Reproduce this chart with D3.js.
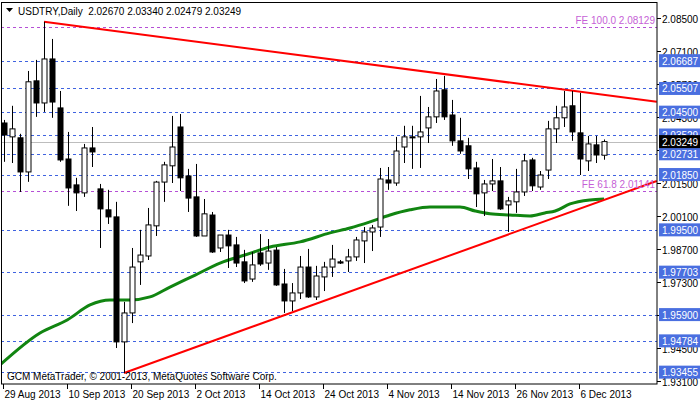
<!DOCTYPE html>
<html><head><meta charset="utf-8">
<script src="https://cdn.jsdelivr.net/npm/d3@7"></script>
<style>body{margin:0;background:#fff}svg{display:block}text{font-family:"Liberation Sans",Arial,sans-serif}</style>
</head><body><svg id="c" width="700" height="402"></svg>
<script>
const opens=[2.0404,2.0345,2.0341,2.0196,2.0583,2.0489,2.0676,2.0468,2.0251,2.0141,2.0107,2.0298,2.0124,2.0035,2.0005,1.9474,1.9597,1.9814,1.9839,1.9967,2.0153,2.0222,2.0387,2.0179,2.0090,1.9924,2.0013,1.9873,1.9928,1.9886,1.9814,1.9741,1.9852,1.9809,1.9864,1.9720,1.9648,1.9682,1.9792,1.9665,1.9750,1.9792,1.9814,1.9818,1.9835,1.9903,1.9941,1.9962,2.0162,2.0149,2.0302,2.0345,2.0345,2.0383,2.0430,2.0545,2.0438,2.0328,2.0307,2.0213,2.0107,2.0145,2.0158,2.0056,2.0069,2.0111,2.0247,2.0132,2.0204,2.0379,2.0426,2.0477,2.0362,2.0243,2.0311,2.02670];
const highs=[2.0417,2.0477,2.0358,2.0625,2.0672,2.0834,2.0761,2.0540,2.0366,2.0171,2.0315,2.0387,2.0145,2.0120,2.0069,1.9644,1.9873,1.9950,2.0043,2.0158,2.0239,2.0434,2.0442,2.0209,2.0230,2.0081,2.0026,1.9928,1.9950,1.9920,1.9865,1.9856,1.9932,1.9911,1.9877,1.9784,1.9724,1.9839,1.9869,1.9797,1.9814,1.9886,1.9822,1.9869,1.9920,1.9962,1.9971,2.0213,2.0217,2.0345,2.0392,2.0392,2.0519,2.0472,2.0591,2.0604,2.0502,2.0426,2.0341,2.0239,2.0162,2.0251,2.0217,2.0090,2.0209,2.0273,2.0256,2.0200,2.0413,2.0477,2.0540,2.0540,2.0532,2.0349,2.0349,2.03340];
const lows=[2.0239,2.0234,2.0111,2.0154,2.0430,2.0451,2.0426,2.0239,2.0052,2.0030,2.0090,2.0217,1.9873,1.9975,1.9448,1.9342,1.9554,1.9716,1.9822,1.9924,2.0069,2.0149,2.0115,2.0026,1.9920,1.9924,1.9852,1.9856,1.9788,1.9792,1.9724,1.9729,1.9797,1.9780,1.9712,1.9597,1.9605,1.9656,1.9661,1.9652,1.9690,1.9750,1.9805,1.9771,1.9818,1.9809,1.9860,1.9920,2.0120,2.0137,2.0234,2.0209,2.0213,2.0319,2.0404,2.0417,2.0307,2.0273,2.0166,2.0047,2.0009,2.0115,2.0035,1.9941,2.0022,2.0094,2.0115,2.0120,2.0166,2.0319,2.0387,2.0328,2.0183,2.0200,2.0234,2.02479];
const closes=[2.0353,2.0379,2.0196,2.0579,2.0489,2.0676,2.0493,2.0247,2.0128,2.0107,2.0298,2.0281,2.0039,2.0005,1.9474,1.9597,1.9792,1.9843,1.9971,2.0153,2.0226,2.0302,2.0171,2.0085,1.9924,2.0018,1.9856,1.9928,1.9882,1.9809,1.9733,1.9801,1.9805,1.9860,1.9716,1.9648,1.9682,1.9792,1.9665,1.9754,1.9792,1.9826,1.9809,1.9835,1.9907,1.9941,1.9958,2.0166,2.0149,2.0285,2.0345,2.0341,2.0366,2.0430,2.0540,2.0430,2.0328,2.0285,2.0209,2.0103,2.0145,2.0158,2.0039,2.0073,2.0111,2.0243,2.0137,2.0183,2.0379,2.0426,2.0472,2.0366,2.0251,2.0315,2.0268,2.03249];
const maIdx=[-0.5,4.5,7.9,10.75,13.25,15.75,18.25,20.75,23.9,27,30.1,33.25,37,40.75,43.25,45.75,48.25,50.75,53.25,57,58.9,60.75,63.25,65.75,67.6,68.9,70.75,73.25,75];
const maVal=[1.9376,1.9512,1.9567,1.9631,1.9652,1.9652,1.9665,1.9707,1.9758,1.9809,1.9843,1.9877,1.9899,1.9937,1.9958,1.9984,2.0013,2.0035,2.0047,2.0047,2.0030,2.0018,2.0013,2.0009,2.0022,2.0030,2.0060,2.0077,2.0081];
const upperLine=[[5,2.0834],[81.6,2.0494]];
const lowerLine=[[15,1.9342],[81.6,2.0158]];
const blueLevels=[2.06687,2.05507,2.04500,2.03529,2.02731,2.01850,1.99500,1.97703,1.95900,1.94784,1.93455];
const feLevels=[[2.08129,"FE 100.0 2.08129"],[2.01141,"FE 61.8 2.01141"]];
const current=2.03249;
const axisTicks=[2.085,2.071,2.057,2.043,2.029,2.015,2.001,1.987,1.973,1.959,1.945,1.931];
const dateLabels=["29 Aug 2013","10 Sep 2013","20 Sep 2013","2 Oct 2013","14 Oct 2013","24 Oct 2013","4 Nov 2013","14 Nov 2013","26 Nov 2013","6 Dec 2013"];
const title="USDTRY,Daily  2.02670 2.03340 2.02479 2.03249";

const svg=d3.select("#c");
const PR=657, PB=384, FS=10;
const x=d3.scaleLinear().domain([0,1]).range([4,12]);
const y=d3.scaleLinear().domain([2.085,1.931]).range([18,380.5]);
svg.append("defs").append("clipPath").attr("id","pc").append("rect").attr("x",1).attr("y",2).attr("width",PR-1).attr("height",PB-2);
const g=svg.append("g").attr("clip-path","url(#pc)");
blueLevels.forEach(v=>g.append("line").attr("x1",1).attr("x2",PR).attr("y1",Math.round(y(v))+0.5).attr("y2",Math.round(y(v))+0.5).attr("stroke","#3f63e0").attr("stroke-dasharray","3,3"));
feLevels.forEach(([v,t])=>{g.append("line").attr("x1",1).attr("x2",PR).attr("y1",Math.round(y(v))+0.5).attr("y2",Math.round(y(v))+0.5).attr("stroke","#b54fd6").attr("stroke-dasharray","3,3");
 svg.append("text").attr("x",655).attr("y",Math.round(y(v))-3).attr("text-anchor","end").attr("font-size",FS).attr("fill","#c65fd6").text(t);});
g.append("line").attr("x1",1).attr("x2",PR).attr("y1",Math.round(y(current))+0.5).attr("y2",Math.round(y(current))+0.5).attr("stroke","#bdbdbd");
g.append("path").datum(maIdx.map((d,i)=>[d,maVal[i]])).attr("d",d3.line().x(d=>x(d[0])).y(d=>y(d[1])).curve(d3.curveMonotoneX)).attr("fill","none").attr("stroke","#118511").attr("stroke-width",3);
[upperLine,lowerLine].forEach(l=>g.append("path").datum(l).attr("d",d3.line().x(d=>x(d[0])).y(d=>y(d[1]))).attr("stroke","#ff0000").attr("stroke-width",2).attr("fill","none"));
opens.forEach((o,i)=>{const cx=Math.round(x(i))+0.5,c=closes[i];
 g.append("line").attr("x1",cx).attr("x2",cx).attr("y1",y(highs[i])).attr("y2",y(lows[i])).attr("stroke","#000");
 const t=y(Math.max(o,c)),b=y(Math.min(o,c));
 g.append("rect").attr("x",cx-2.5).attr("y",t).attr("width",5).attr("height",Math.max(1,b-t)).attr("fill",c>=o?"#fff":"#000").attr("stroke","#000");});
svg.append("rect").attr("x",1.5).attr("y",2.5).attr("width",PR-1.5).attr("height",PB-2.5).attr("fill","none").attr("stroke","#000");
axisTicks.forEach(v=>{const yy=Math.round(y(v))+0.5;svg.append("line").attr("x1",PR).attr("x2",PR+4).attr("y1",yy).attr("y2",yy).attr("stroke","#000");
 svg.append("text").attr("x",662).attr("y",yy+4).attr("font-size",FS).attr("fill","#000").text(v.toFixed(5));});
blueLevels.forEach(v=>{const yy=y(v);svg.append("rect").attr("x",659).attr("y",yy-6.5).attr("width",41).attr("height",13).attr("fill","#4a6fe0");
 svg.append("text").attr("x",662).attr("y",yy+4).attr("font-size",FS).attr("fill","#fff").text(v.toFixed(5));});
svg.append("rect").attr("x",659).attr("y",y(current)-6.5).attr("width",41).attr("height",13).attr("fill","#000");
svg.append("text").attr("x",662).attr("y",y(current)+4).attr("font-size",FS).attr("fill","#fff").text(current.toFixed(5));
dateLabels.forEach((t,k)=>{const xx=Math.round(x(k*8))-0.5;svg.append("line").attr("x1",xx).attr("x2",xx).attr("y1",PB).attr("y2",PB+5).attr("stroke","#000");
 svg.append("text").attr("x",xx+1).attr("y",398).attr("font-size",FS).attr("fill","#000").text(t);});
svg.append("path").attr("d","M6,8 L13,8 L9.5,12 Z").attr("fill","#000");
svg.append("text").attr("x",18).attr("y",15).attr("font-size",FS).attr("fill","#000").attr("xml:space","preserve").text(title);
svg.append("text").attr("x",7).attr("y",380).attr("font-size",FS).attr("fill","#000").text("GCM MetaTrader, © 2001-2013, MetaQuotes Software Corp.");
</script></body></html>
